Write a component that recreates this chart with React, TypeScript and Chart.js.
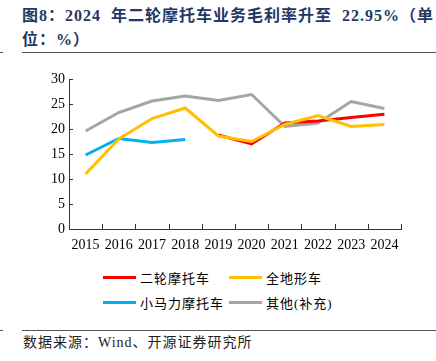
import React, { useEffect, useRef } from "react";
import { Chart, registerables } from "chart.js";

Chart.register(...registerables);

const years = ["2015", "2016", "2017", "2018", "2019", "2020", "2021", "2022", "2023", "2024"];
const motorcycle = [null, null, null, null, 18.8, 17.0, 21.2, 21.6, 22.3, 22.95];
const atv = [11.0, 18.0, 22.1, 24.2, 18.6, 17.5, 20.9, 22.7, 20.5, 20.9];
const smallMotor = [14.8, 18.1, 17.3, 17.9, null, null, null, null, null, null];
const other = [19.6, 23.3, 25.6, 26.6, 25.7, 26.9, 20.5, 21.2, 25.5, 24.1];

const seriesNames = ["二轮摩托车", "全地形车", "小马力摩托车", "其他(补充)"];
const seriesColors = ["#FF0000", "#FFC000", "#00B0F0", "#A5A5A5"];

const serif = '"Times New Roman", "Liberation Serif", "Noto Sans CJK SC", serif';

const tickPlugin = {
  id: "innerTicks",
  afterDraw(chart: any) {
    const { ctx, chartArea } = chart;
    const x = chart.scales.x;
    const y = chart.scales.y;
    ctx.save();
    ctx.strokeStyle = "#333333";
    ctx.lineWidth = 1;
    ctx.beginPath();
    y.ticks.forEach((_t: any, i: number) => {
      const py = Math.round(y.getPixelForTick(i)) + 0.5;
      ctx.moveTo(chartArea.left, py);
      ctx.lineTo(chartArea.left + 4, py);
    });
    const half = (x.getPixelForValue(1) - x.getPixelForValue(0)) / 2;
    for (let i = 0; i < years.length; i++) {
      const px = Math.round(x.getPixelForValue(i) + half) + 0.5;
      ctx.moveTo(px, chartArea.bottom);
      ctx.lineTo(px, chartArea.bottom - 5);
    }
    ctx.stroke();
    ctx.restore();
  },
};

export default function App() {
  const ref = useRef<HTMLCanvasElement | null>(null);

  useEffect(() => {
    if (!ref.current) return;
    const mk = (i: number, data: (number | null)[], order: number) => ({
      label: seriesNames[i],
      data,
      borderColor: seriesColors[i],
      backgroundColor: seriesColors[i],
      borderWidth: 3,
      pointRadius: 0,
      tension: 0,
      spanGaps: false,
      order,
    });
    const chart = new Chart(ref.current, {
      type: "line",
      data: {
        labels: years,
        datasets: [mk(0, motorcycle, 1), mk(1, atv, 0), mk(2, smallMotor, 2), mk(3, other, 3)],
      },
      options: {
        animation: false,
        responsive: false,
        devicePixelRatio: 1,
        layout: { padding: { top: 19, right: 35, left: 0, bottom: 0 } },
        plugins: { legend: { display: false }, tooltip: { enabled: false } },
        scales: {
          x: {
            offset: true,
            grid: { display: true, drawOnChartArea: false, drawTicks: false },
            border: { display: true, color: "#333333", width: 1 },
            ticks: { color: "#000", font: { family: serif, size: 14 }, padding: 8, maxRotation: 0, autoSkip: false },
            afterFit: (s: any) => {
              s.height = 31;
            },
          },
          y: {
            min: 0,
            max: 30,
            ticks: { stepSize: 5, color: "#000", font: { family: serif, size: 14 }, padding: 4 },
            grid: { display: true, drawOnChartArea: false, drawTicks: false },
            border: { display: true, color: "#333333", width: 1 },
            afterFit: (s: any) => {
              s.width = 69;
            },
          },
        },
      },
      plugins: [tickPlugin],
    });
    return () => chart.destroy();
  }, []);

  const legendItem = (i: number, left: number, top: number) => (
    <div key={i} style={{ position: "absolute", left, top, height: 20, display: "flex", alignItems: "center" }}>
      <div style={{ width: 33, height: 3, background: seriesColors[i], marginRight: 4 }} />
      <span style={{ fontFamily: serif, fontSize: 13, letterSpacing: 1, color: "#000", whiteSpace: "nowrap" }}>
        {seriesNames[i]}
      </span>
    </div>
  );

  return (
    <div style={{ position: "fixed", left: 0, top: 0, width: 436, height: 361, background: "#fff", overflow: "hidden" }}>
      <div
        style={{
          position: "absolute",
          left: 22,
          top: 4,
          width: 440,
          fontFamily: serif,
          fontWeight: "bold",
          fontSize: 16,
          lineHeight: "24px",
          letterSpacing: 1.0,
          color: "#1F3864",
          whiteSpace: "nowrap",
        }}
      >
        图8：2024<span style={{ display: "inline-block", width: 10 }} />年二轮摩托车业务毛利率升至
        <span style={{ display: "inline-block", width: 10 }} />22.95%（单
        <br />
        位：%）
      </div>
      <div style={{ position: "absolute", left: 22, top: 52, width: 414, height: 1, background: "#555" }} />
      <div style={{ position: "absolute", left: 0, top: 52, width: 3, height: 1, background: "#555" }} />
      <canvas ref={ref} width={436} height={200} style={{ position: "absolute", left: 0, top: 60, width: 436, height: 200 }} />
      {legendItem(0, 103, 267)}
      {legendItem(1, 229, 267)}
      {legendItem(2, 103, 292)}
      {legendItem(3, 229, 292)}
      <div style={{ position: "absolute", left: 22, top: 330, width: 414, height: 1, background: "#555" }} />
      <div style={{ position: "absolute", left: 0, top: 330, width: 3, height: 1, background: "#555" }} />
      <div
        style={{
          position: "absolute",
          left: 23,
          top: 334,
          fontFamily: serif,
          fontSize: 14,
          lineHeight: "18px",
          letterSpacing: 1,
          color: "#222",
          whiteSpace: "nowrap",
        }}
      >
        数据来源：Wind、开源证券研究所
      </div>
    </div>
  );
}
